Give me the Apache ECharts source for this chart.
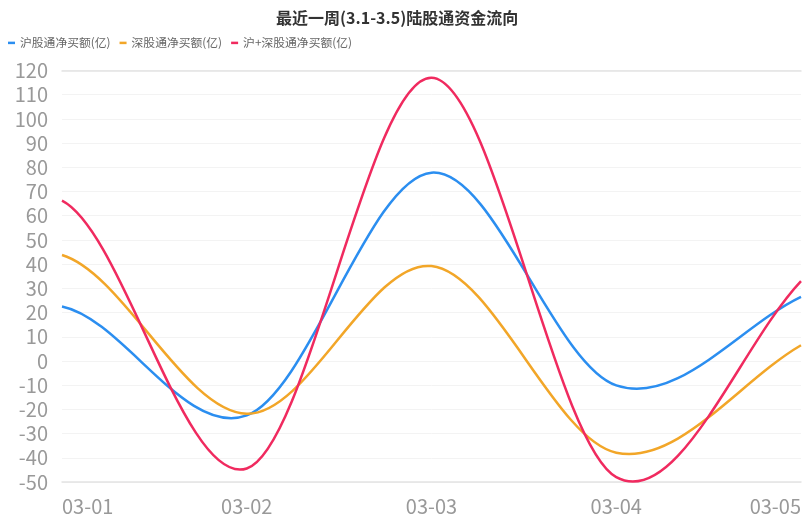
<!DOCTYPE html>
<html>
<head>
<meta charset="utf-8">
<script src="https://cdn.jsdelivr.net/npm/echarts@6/dist/echarts.min.js"></script>
<style>
html,body{margin:0;padding:0;background:#fff;}
#main{width:810px;height:526px;}
</style>
</head>
<body>
<div id="main"></div>
<script>
const titleText = '最近一周(3.1-3.5)陆股通资金流向';
const categories = ['03-01', '03-02', '03-03', '03-04', '03-05'];
const seriesNames = ['沪股通净买额(亿)', '深股通净买额(亿)', '沪+深股通净买额(亿)'];
const shValues = [22.5, -22.5, 77.8, -10.1, 26.5];
const szValues = [43.8, -21.8, 39.2, -37.9, 6.5];
const totalValues = [66.2, -44.4, 117.0, -48.0, 33.0];
const colors = ['#2b8ef0', '#f2a628', '#f02a5f'];
const font = '"Noto Sans CJK SC", "Noto Sans", sans-serif';

// spline style: tangent factors at the first and last point
const START_TENSION = 0.35;
const END_TENSION = 1.0;

function splinePath(pts) {
  const n = pts.length;
  const tan = pts.map((p, i) => {
    if (i === 0) {
      return [pts[1][0] - p[0], START_TENSION * (pts[1][1] - p[1])];
    }
    if (i === n - 1) {
      return [p[0] - pts[i - 1][0], END_TENSION * (p[1] - pts[i - 1][1])];
    }
    return [(pts[i + 1][0] - pts[i - 1][0]) / 2, (pts[i + 1][1] - pts[i - 1][1]) / 2];
  });
  let d = 'M' + pts[0][0] + ',' + pts[0][1];
  for (let i = 0; i < n - 1; i++) {
    const a = pts[i], b = pts[i + 1];
    const c1 = [a[0] + tan[i][0] / 3, a[1] + tan[i][1] / 3];
    const c2 = [b[0] - tan[i + 1][0] / 3, b[1] - tan[i + 1][1] / 3];
    d += ' C' + c1[0] + ',' + c1[1] + ' ' + c2[0] + ',' + c2[1] + ' ' + b[0] + ',' + b[1];
  }
  return d;
}

function makeSeries(name, values, color) {
  return {
    name: name,
    type: 'custom',
    data: values.map((v, i) => [i, v]),
    encode: { x: 0, y: 1 },
    itemStyle: { color: color },
    renderItem: function (params, api) {
      if (params.dataIndex !== 0) return null;
      const pts = values.map((v, i) => api.coord([i, v]));
      return {
        type: 'path',
        shape: { pathData: splinePath(pts) },
        style: { stroke: color, lineWidth: 2.5, fill: 'none' },
        silent: true
      };
    }
  };
}

const chart = echarts.init(document.getElementById('main'));
const allValues = [shValues, szValues, totalValues];
chart.setOption({
  animation: false,
  backgroundColor: '#fff',
  color: colors,
  title: {
    text: titleText,
    left: 271,
    top: 5,
    textStyle: { fontSize: 16, fontWeight: 'bold', color: '#333', fontFamily: font }
  },
  legend: {
    data: seriesNames,
    left: 3,
    top: 32,
    icon: 'rect',
    itemWidth: 7,
    itemHeight: 2.5,
    itemGap: 9,
    textStyle: { fontSize: 11.8, color: '#666', fontFamily: font }
  },
  grid: { left: 62, right: 9, top: 70.5, bottom: 44 },
  xAxis: [{
    type: 'category',
    data: categories,
    boundaryGap: false,
    axisLine: { show: true, onZero: false, lineStyle: { color: '#e3e3e3', width: 1.5 } },
    axisTick: { show: false },
    axisLabel: {
      fontSize: 20, color: '#999', fontFamily: font, margin: 14,
      alignMinLabel: 'left', alignMaxLabel: 'right'
    },
    splitLine: { show: false }
  }, {
    type: 'category',
    data: categories,
    position: 'top',
    boundaryGap: false,
    axisLine: { show: true, onZero: false, lineStyle: { color: '#e3e3e3', width: 1.5 } },
    axisTick: { show: false },
    axisLabel: { show: false }
  }],
  yAxis: {
    type: 'value',
    min: -50,
    max: 120,
    interval: 10,
    axisLine: { show: false },
    axisTick: { show: false },
    axisLabel: { fontSize: 20, color: '#999', fontFamily: font, margin: 14 },
    splitLine: { lineStyle: { color: '#f3f3f3', width: 1 } }
  },
  series: seriesNames.map((name, i) => makeSeries(name, allValues[i], colors[i]))
});
</script>
</body>
</html>
